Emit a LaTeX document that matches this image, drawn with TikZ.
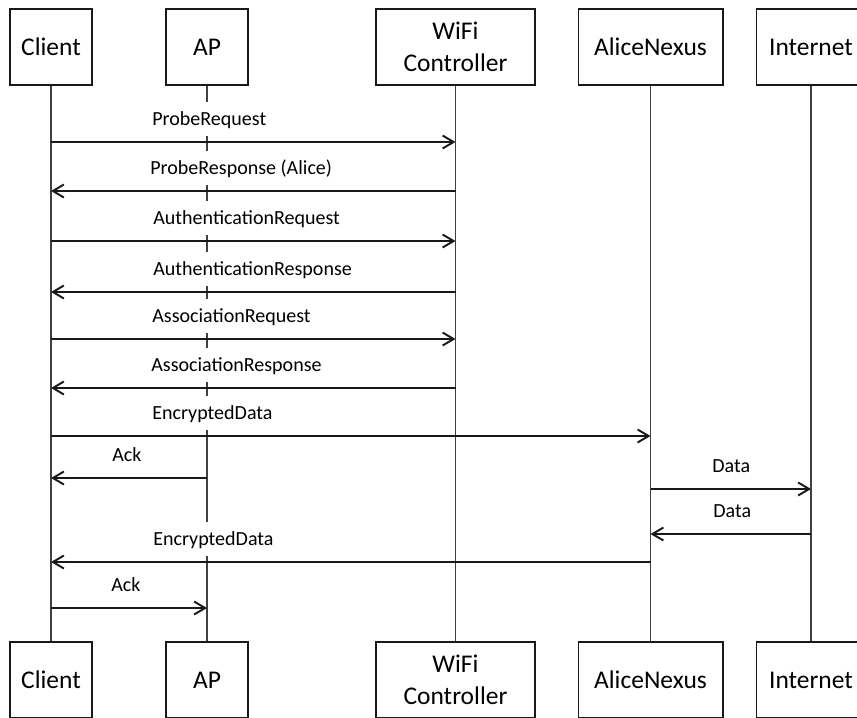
\documentclass[tikz,border=0pt]{standalone}
\usepackage{fontspec}
\setmainfont{Carlito}
\usetikzlibrary{arrows.meta}

\tikzset{
  actor/.style={draw=black!90, line width=0.6pt, minimum height=1.52cm, inner sep=0pt,
    align=center, font=\fontsize{14.5}{18}\selectfont},
  life/.style={draw=black!75, line width=0.6pt},
  msg/.style={draw=black!90, line width=0.6pt, -{Straight Barb[length=2.2mm,width=2.6mm,line width=1.1pt]}},
  lbl/.style={fill=white, anchor=base west, inner xsep=0pt, inner ysep=0.1cm,
    text height=0.38cm, text depth=0.1cm, font=\fontsize{11.4}{13}\selectfont},
}

\begin{document}
\begin{tikzpicture}[x=0.02cm,y=-0.02cm]
  \clip (0,0) rectangle (857,717);
  % participants: head and foot boxes, lifeline between them
  \foreach \id/\xc/\w/\name in {c/51/1.64cm/Client, ap/207/1.64cm/AP,
      wc/455.5/3.18cm/{WiFi\\Controller}, an/650.5/2.9cm/AliceNexus, in/811/2.2cm/Internet}{
    \node[actor,minimum width=\w] (\id-top) at (\xc,47) {\name};
    \node[actor,minimum width=\w] (\id-bot) at (\xc,680) {\name};
    \draw[life] (\id-top.south) -- (\id-bot.north);
  }
  % messages: y / from / to / text / text x
  \foreach \yy/\src/\dst/\txt/\lx [count=\i] in {
      142/c/wc/ProbeRequest/152, 191/wc/c/ProbeResponse (Alice)/150,
      241/c/wc/AuthenticationRequest/153, 292/wc/c/AuthenticationResponse/153,
      339/c/wc/AssociationRequest/152, 388/wc/c/AssociationResponse/151,
      436/c/an/EncryptedData/152, 478/ap/c/Ack/112,
      489/an/in/Data/712, 534/in/an/Data/713,
      562/an/c/EncryptedData/153, 608/c/ap/Ack/111}{
    \coordinate (m\i) at (0,\yy);
    \node[lbl] (t\i) at (\lx,\yy-16.5) {\txt};
    \draw[msg] (\src-top |- m\i) -- (\dst-top |- m\i);
  }
\end{tikzpicture}
\end{document}
